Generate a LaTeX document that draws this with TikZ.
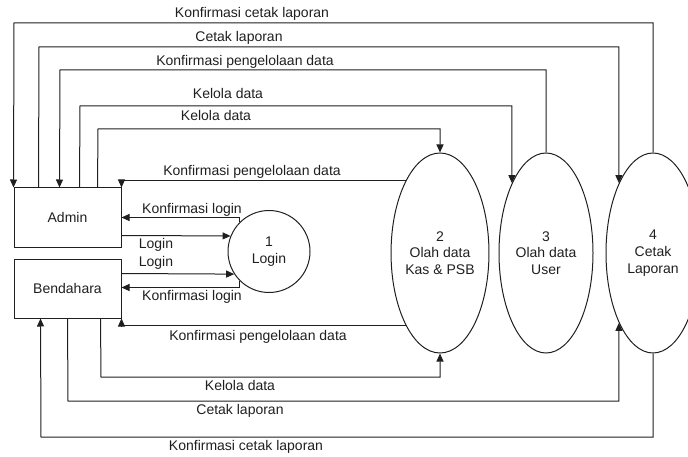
\documentclass[tikz,border=0pt]{standalone}
\usepackage{fontspec}
\setmainfont{Liberation Sans}
\usetikzlibrary{shapes.geometric,arrows.meta,calc}
\definecolor{ink}{rgb}{0.12,0.12,0.12}
\begin{document}
\begin{tikzpicture}[x=1pt,y=-1pt,
  line width=1pt, draw=ink,
  every node/.style={font=\fontsize{14}{16.8}\selectfont, text=ink},
  ent/.style={draw=ink, minimum width=107pt, minimum height=59pt, inner sep=0pt},
  proc/.style={draw=ink, ellipse, minimum width=94pt, minimum height=200pt, inner sep=0pt, align=center},
  lbl/.style={inner sep=0pt, text height=10pt, text depth=3pt},
  arr/.style={-{Triangle[length=8pt,width=7pt]}},
]
\clip (0,0) rectangle (688,457);
\useasboundingbox (0,0) rectangle (688,457);

% entities
\node[ent] (admin) at (67.5,217.5) {Admin};
\node[ent] (bend) at (67.5,288.5) {Bendahara};

% processes
\node[draw=ink, circle, minimum size=82pt, inner sep=0pt, align=center] (p1) at (269,251.5) {1\\Login};
\node[proc] (p2) at (440,253) {2\\Olah data\\Kas \& PSB};
\node[proc] (p3) at (546,253) {3\\Olah data\\User};
\node[proc] (p4) at (653,253) {4\\Cetak\\Laporan};

% top flows
\draw[arr] (p4.north) |- (14,23) -- (admin.north west);
\draw[arr] ($(admin.north west)+(25,0)$) -- (39,47) -| (p4.116);
\draw[arr] (p3.north) |- (60,70) -- ($(admin.north west)+(46,0)$);
\draw[arr] ($(admin.north west)+(66,0)$) -- (80,106) -| (p3.116);
\draw[arr] ($(admin.north west)+(84,0)$) -- (98,129) -| (p2.north);
\draw[arr] (p2.115) -- (p2.115 -| admin.north east) -- (admin.north east);

% login flows
\draw[arr] (p1.135) |- ($(admin.north east)+(0,30)$);
\draw[arr] ($(admin.north east)+(0,48)$) -- (p1.158);
\draw[arr] ($(bend.north east)+(0,15)$) -- (p1.213);
\draw[arr] (p1.225) |- ($(bend.north east)+(0,29)$);

% bottom flows
\draw[arr] (p2.245) -- (p2.245 -| bend.south east) -- (bend.south east);
\draw[arr] ($(bend.south west)+(87,0)$) -- (101,377) -| (p2.south);
\draw[arr] ($(bend.south west)+(54,0)$) -- (68,401) -| (p4.244);
\draw[arr] (p4.south) |- (41,437) -- ($(bend.south west)+(27,0)$);

% labels
\node[lbl] (t1) at (252,14.5) {Konfirmasi cetak laporan};
\node[lbl] (t2) at (239,38.5) {Cetak laporan};
\node[lbl] (t3) at (245,62) {Konfirmasi pengelolaan data};
\node[lbl] (t4) at (228,95) {Kelola data};
\node[lbl] (t5) at (216,117.5) {Kelola data};
\node[lbl] (t6) at (252,172.5) {Konfirmasi pengelolaan data};
\node[lbl] (l1) at (192,210.5) {Konfirmasi login};
\node[lbl] (l2) at (156,244.5) {Login};
\node[lbl] (l3) at (156,263) {Login};
\node[lbl] (l4) at (192,296.5) {Konfirmasi login};
\node[lbl] (b1) at (258,337) {Konfirmasi pengelolaan data};
\node[lbl] (b2) at (240,387) {Kelola data};
\node[lbl] (b3) at (240,411) {Cetak laporan};
\node[lbl] (b4) at (246,447) {Konfirmasi cetak laporan};
\end{tikzpicture}
\end{document}
